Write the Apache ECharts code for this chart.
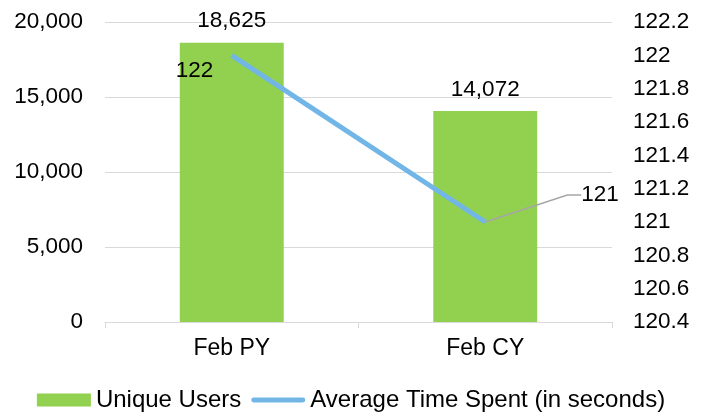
<!DOCTYPE html>
<html>
<head>
<meta charset="utf-8">
<script src="https://cdn.jsdelivr.net/npm/echarts@6/dist/echarts.min.js"></script>
<style>
  html, body { margin: 0; padding: 0; background: #fff; }
  #chart { width: 702px; height: 418px; }
</style>
</head>
<body>
<div id="chart"></div>
<script>
// data
var categories = ['Feb PY', 'Feb CY']
var uniqueUsers = [18625, 14072]
var avgTimeSpent = [122, 121]

var FONT = 'Liberation Sans, Arial, sans-serif'
var TEXT = '#000'
var BLUE = '#71b6e6'

var myChart = echarts.init(document.getElementById('chart'))

var option = {
    animation: false,
    textStyle: { fontFamily: FONT },
    grid: {
        left: 105,
        right: 90,
        top: 22,
        bottom: 96,
    },
    legend: {
        bottom: 1,
        left: 'center',
        itemGap: 10,
        itemWidth: 54,
        itemHeight: 13,
        textStyle: { fontSize: 24, color: TEXT, fontFamily: FONT },
        data: [
            { name: 'Unique Users', icon: 'rect' },
            {
                name: 'Average Time Spent (in seconds)',
                icon: 'path://M2.5,0 H53.5 A2.5,2.5 0 0 1 53.5,5 H2.5 A2.5,2.5 0 0 1 2.5,0 Z',
                itemStyle: { color: BLUE, opacity: 1 },
            },
        ],
    },
    xAxis: {
        type: 'category',
        data: categories,
        axisLine: { lineStyle: { color: '#d9d9d9', width: 1 } },
        axisTick: { show: true, length: 6, lineStyle: { color: '#d9d9d9' } },
        axisLabel: { fontSize: 23, color: TEXT, margin: 15, fontFamily: FONT },
    },
    yAxis: [
        {
            type: 'value',
            min: 0,
            max: 20000,
            interval: 5000,
            axisLine: { show: false },
            axisTick: { show: false },
            axisLabel: {
                fontSize: 22.5,
                color: TEXT,
                margin: 22,
                fontFamily: FONT,
                formatter: function(v) { return v.toLocaleString('en-US') },
            },
            splitLine: { lineStyle: { color: '#d9d9d9', width: 1 } },
        },
        {
            type: 'value',
            min: 120.4,
            max: 122.2,
            interval: 0.2,
            position: 'right',
            axisLine: { show: false },
            axisTick: { show: false },
            splitLine: { show: false },
            axisLabel: {
                fontSize: 22.5,
                color: TEXT,
                margin: 21,
                fontFamily: FONT,
                formatter: function(v) { return String(Math.round(v * 10) / 10) },
            },
        },
    ],
    series: [
        {
            name: 'Unique Users',
            type: 'bar',
            yAxisIndex: 0,
            barWidth: '41%',
            itemStyle: { color: '#92d050' },
            label: {
                show: true,
                position: 'top',
                distance: 10,
                fontSize: 22.5,
                color: TEXT,
                fontFamily: FONT,
                formatter: function(p) { return p.value.toLocaleString('en-US') },
            },
            data: uniqueUsers,
        },
        {
            name: 'Average Time Spent (in seconds)',
            type: 'line',
            yAxisIndex: 1,
            symbol: 'circle',
            symbolSize: 0.1,
            showSymbol: true,
            lineStyle: { color: BLUE, width: 5 },
            itemStyle: { color: BLUE },
            label: {
                show: true,
                position: 'right',
                distance: 5,
                fontSize: 22.5,
                color: TEXT,
                fontFamily: FONT,
            },
            labelLine: {
                show: true,
                length2: 14,
                lineStyle: { color: '#a6a6a6', width: 1.5 },
            },
            labelLayout: function(p) {
                // first label sits inside the bar, second is pulled out with a leader line
                if (p.dataIndex === 0) return { dx: -61, dy: 15 }
                return { dx: 91, dy: -27 }
            },
            data: [
                { value: avgTimeSpent[0], labelLine: { show: false } },
                { value: avgTimeSpent[1] },
            ],
        },
    ],
}

myChart.setOption(option)
</script>
</body>
</html>
